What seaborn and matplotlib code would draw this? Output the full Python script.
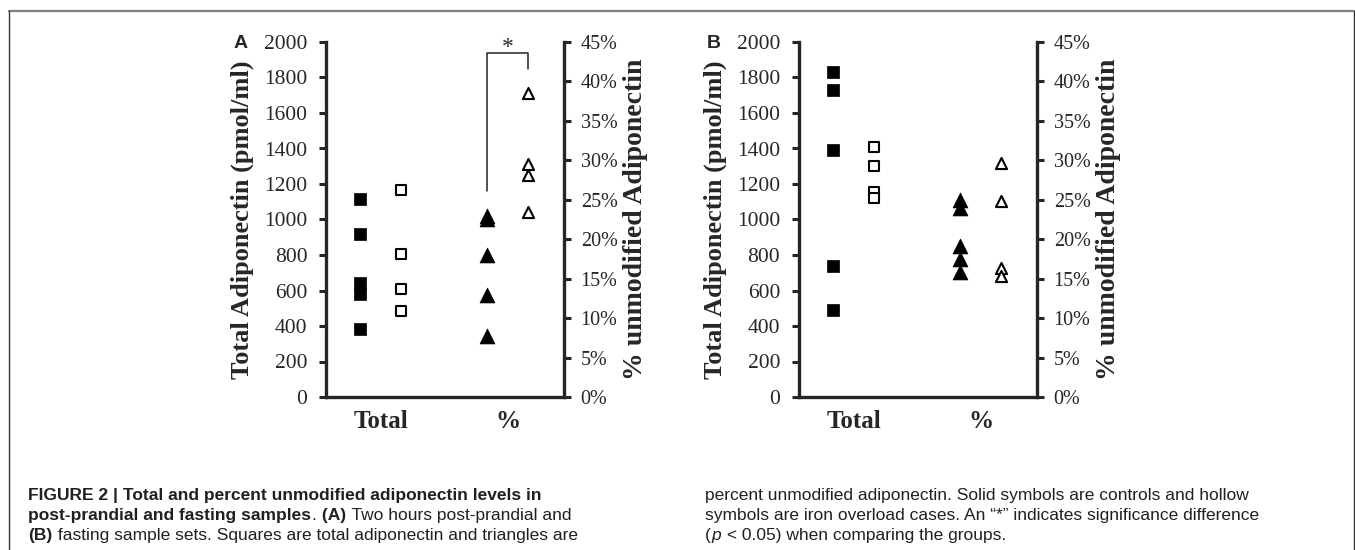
import matplotlib
matplotlib.use("Agg")
import matplotlib.pyplot as plt
import seaborn as sns
import pandas as pd
from matplotlib.ticker import PercentFormatter, MultipleLocator
from matplotlib.lines import Line2D

sns.set_style("ticks")
plt.rcParams["font.family"] = ["Liberation Serif", "DejaVu Serif"]

# categories on the x axis
categories = ["Total", "%"]

# panel A: two hours post-prandial
a_ctrl_total = [1115, 920, 640, 578, 382]
a_iron_total = [1164, 804, 606, 483]
a_ctrl_pct = [23.0, 22.5, 18.0, 12.9, 7.7]
a_iron_pct = [38.5, 29.5, 28.2, 23.4]

# panel B: fasting
b_ctrl_total = [1833, 1732, 1391, 738, 490]
b_iron_total = [1407, 1301, 1157, 1122]
b_ctrl_pct = [25.0, 23.9, 19.1, 17.5, 15.8]
b_iron_pct = [29.6, 24.9, 16.3, 15.4]

W, H = 1355, 550
OFFSET = 0.1615
XLIM = (-0.433, 1.443)
INK = "#231f20"


def px_rect(x0, x1, y_top, y_bot):
    return [x0 / W, 1 - y_bot / H, (x1 - x0) / W, (y_bot - y_top) / H]


def draw_panel(ax, letter, ctrl_total, iron_total, ctrl_pct, iron_pct, star=False):
    ax2 = ax.twinx()

    tot = pd.DataFrame({
        "x": [0 - OFFSET] * len(ctrl_total) + [0 + OFFSET] * len(iron_total),
        "value": ctrl_total + iron_total,
        "group": ["control"] * len(ctrl_total) + ["iron"] * len(iron_total),
    })
    pct = pd.DataFrame({
        "x": [1 - OFFSET] * len(ctrl_pct) + [1 + OFFSET] * len(iron_pct),
        "value": ctrl_pct + iron_pct,
        "group": ["control"] * len(ctrl_pct) + ["iron"] * len(iron_pct),
    })

    # solid = controls, hollow = iron overload
    c = tot[tot.group == "control"]
    sns.scatterplot(data=c, x="x", y="value", marker="s", s=76, color="black",
                    edgecolor="black", linewidth=0.5, ax=ax, zorder=3)
    i = tot[tot.group == "iron"]
    sns.scatterplot(data=i, x="x", y="value", marker="s", s=56, color="black",
                    facecolor="white", edgecolor="black", linewidth=1.5, ax=ax, zorder=3)

    c = pct[pct.group == "control"]
    sns.scatterplot(data=c, x="x", y="value", marker="^", s=115, color="black",
                    edgecolor="black", linewidth=0.5, ax=ax2, zorder=3)
    i = pct[pct.group == "iron"]
    sns.scatterplot(data=i, x="x", y="value", marker="^", s=64, color="black",
                    facecolor="white", edgecolor="black", linewidth=1.5, ax=ax2, zorder=3)

    ax.set_xlim(*XLIM)
    ax.set_ylim(0, 2000)
    ax.yaxis.set_major_locator(MultipleLocator(200))
    ax2.set_ylim(0, 45)
    ax2.yaxis.set_major_locator(MultipleLocator(5))
    ax2.yaxis.set_major_formatter(PercentFormatter(xmax=100, decimals=0))

    ax.set_xticks(range(len(categories)))
    ax.set_xticklabels(categories, fontsize=18, fontweight="bold")
    ax.tick_params(axis="x", length=0, pad=9)
    ax.tick_params(axis="y", direction="out", length=5, width=2.2, pad=8.5,
                   labelsize=15.5, left=True)
    ax2.tick_params(axis="y", direction="out", length=5, width=2.2, pad=7,
                    labelsize=14.5, right=True)

    for a in (ax, ax2):
        a.set_xlabel("")
        for sp in a.spines.values():
            sp.set_linewidth(2.4)
    ax.spines[["top", "right"]].set_visible(False)
    ax2.spines[["top", "left", "bottom"]].set_visible(False)

    ax.set_ylabel("Total Adiponectin (pmol/ml)", fontsize=19, fontweight="bold")
    ax.yaxis.label.set_va("center")
    ax.yaxis.set_label_coords(-0.352, 0.5)
    ax2.set_ylabel("% unmodified Adiponectin", fontsize=20, fontweight="bold")
    ax2.yaxis.label.set_va("center")
    ax2.yaxis.set_label_coords(1.30, 0.5)

    ax.text(-0.36, 0.995, letter, transform=ax.transAxes, ha="center", va="center",
            fontsize=14, fontweight="bold", family="Liberation Sans")

    if star:
        ax2.plot([1 - OFFSET, 1 - OFFSET, 1 + OFFSET, 1 + OFFSET],
                 [26.1, 43.6, 43.6, 41.6], color="#222222", lw=1.1, clip_on=False)
        ax2.text(1.0, 44.3, "*", ha="center", va="center", fontsize=17)
    return ax2


fig = plt.figure(figsize=(W / 100, H / 100), dpi=100)
axA = fig.add_axes(px_rect(326, 564, 42, 397))
axB = fig.add_axes(px_rect(799, 1037, 42, 397))
draw_panel(axA, "A", a_ctrl_total, a_iron_total, a_ctrl_pct, a_iron_pct, star=True)
draw_panel(axB, "B", b_ctrl_total, b_iron_total, b_ctrl_pct, b_iron_pct)

# frame around the figure
fig.add_artist(Line2D([9 / W, 1354 / W], [1 - 10.5 / H] * 2, color="#7f7f7f", lw=1.6))
fig.add_artist(Line2D([9 / W] * 2, [-0.05, 1 - 10.5 / H], color="#333333", lw=1.0))
fig.add_artist(Line2D([1353.8 / W] * 2, [-0.05, 1 - 10.5 / H], color="#333333", lw=1.0))

# caption, written piece by piece so bold / italic can be mixed
cap_font = ["Liberation Sans", "DejaVu Sans"]
renderer = fig.canvas.get_renderer()


def caption_line(x_px, y_px, parts):
    x = x_px / W
    for text, weight, style in parts:
        t = fig.text(x, 1 - y_px / H, text, fontsize=12.5, fontweight=weight,
                     fontstyle=style, family=cap_font, color=INK, va="baseline")
        bb = t.get_window_extent(renderer)
        x = bb.x1 / fig.bbox.width + 0.6 / W


caption_line(28, 500, [("FIGURE 2 | Total and percent unmodified adiponectin levels in", "bold", "normal")])
caption_line(28, 520, [("post-prandial and fasting samples", "bold", "normal"),
                       (".", "normal", "normal"),
                       (" (A)", "bold", "normal"),
                       (" Two hours post-prandial and", "normal", "normal")])
caption_line(28, 540, [("(B)", "bold", "normal"),
                       (" fasting sample sets. Squares are total adiponectin and triangles are", "normal", "normal")])
caption_line(705, 500, [("percent unmodified adiponectin. Solid symbols are controls and hollow", "normal", "normal")])
caption_line(705, 520, [("symbols are iron overload cases. An \u201c*\u201d indicates significance difference", "normal", "normal")])
caption_line(705, 540, [("(", "normal", "normal"), ("p", "normal", "italic"),
                        (" < 0.05) when comparing the groups.", "normal", "normal")])

fig.savefig("out.png", dpi=100)
